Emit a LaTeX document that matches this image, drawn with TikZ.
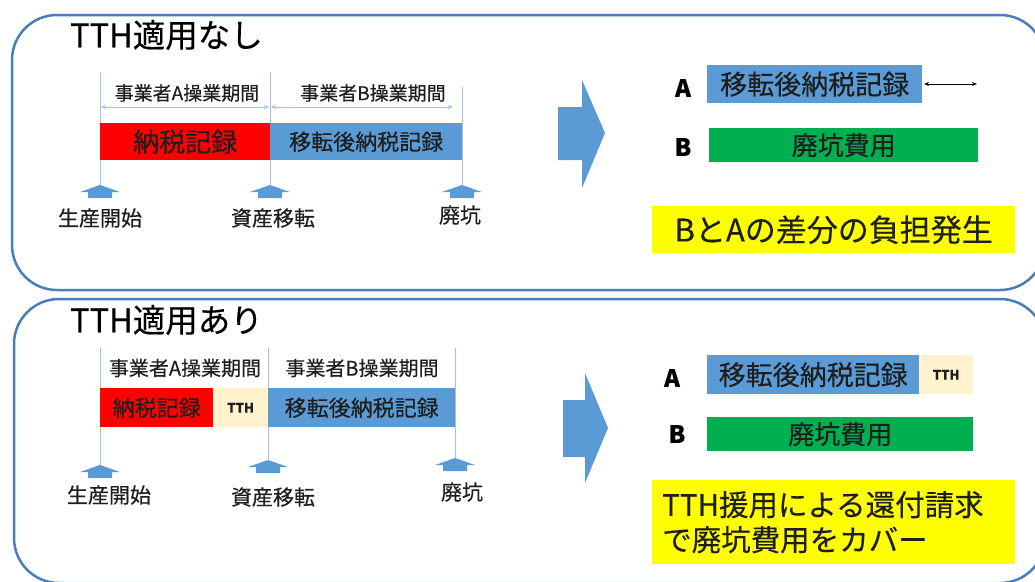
\documentclass[tikz,border=0pt]{standalone}
\usepackage{fontspec}
\setmainfont{Noto Sans CJK JP}[FakeBold=0.3]
\usetikzlibrary{arrows.meta}
\definecolor{barblue}{RGB}{91,155,213}
\definecolor{barred}{RGB}{255,0,0}
\definecolor{bargreen}{RGB}{0,176,80}
\definecolor{tthcream}{RGB}{255,242,204}
\definecolor{hiyellow}{RGB}{255,255,0}
\definecolor{guide}{RGB}{157,195,230}
\definecolor{framecol}{RGB}{74,126,187}
\definecolor{ink}{RGB}{30,30,30}
\newcommand{\uparrowshape}[2]{%
  \fill[barblue] (#1,#2) -- (#1+20,#2+7) -- (#1+12,#2+7) -- (#1+12,#2+13)
    -- (#1-12,#2+13) -- (#1-12,#2+7) -- (#1-20,#2+7) -- cycle;}
\tikzset{
  fsz/.style={font=\fontsize{#1}{#1}\selectfont},
  bfsz/.style={font=\fontsize{#1}{#1}\selectfont\bfseries},
  outerbox/.style={draw=framecol, line width=2.5pt, rounded corners=45pt},
  guideline/.style={draw=guide, line width=1pt},
  dimarrow/.style={draw=guide, line width=1pt, {Stealth[length=5pt,width=4pt]}-{Stealth[length=5pt,width=4pt]}},
  bar/.style={anchor=north west, inner sep=0pt, text=ink},
  lbl/.style={text=ink, inner sep=0pt},
}
\begin{document}
\begin{tikzpicture}[x=1pt,y=-1pt]
\useasboundingbox (0,0) rectangle (1035,581);
\fill[white] (0,0) rectangle (1035,581);

% ---------- outer frames
\draw[outerbox] (12,15) rectangle (1045,290);
\draw[outerbox] (14,299) rectangle (1045,583);

% ================= TOP: TTH適用なし
\node[anchor=west, lbl, fsz=32.5, text=black] (title1) at (70,35) {TTH適用なし};

\coordinate (g1t) at (100,72);  \coordinate (g1b) at (100,185);
\coordinate (g2t) at (270,72);  \coordinate (g2b) at (270,185);
\coordinate (g3t) at (462,87);  \coordinate (g3b) at (462,185);
\draw[guideline] (g1t) -- (g1b);
\draw[guideline] (g2t) -- (g2b);
\draw[guideline] (g3t) -- (g3b);

\coordinate (d1a) at (101,107); \coordinate (d1b) at (269,107);
\coordinate (d2a) at (271,107); \coordinate (d2b) at (453,107);
\draw[dimarrow] (d1a) -- (d1b);
\draw[dimarrow] (d2a) -- (d2b);

\node[lbl, fsz=19] (opA1) at (187,93) {事業者A操業期間};
\node[lbl, fsz=19] (opB1) at (373,93) {事業者B操業期間};

\node[bar, fill=barred, minimum width=170pt, minimum height=37pt, fsz=26] (red1) at (100,123) {納税記録};
\node[bar, fill=barblue, minimum width=192pt, minimum height=37pt, fsz=22] (blue1) at (270,123) {移転後納税記録};

\uparrowshape{100}{185}
\uparrowshape{270}{185}
\uparrowshape{462}{185}

\node[lbl, fsz=21] (start1) at (100,218) {生産開始};
\node[lbl, fsz=21] (trans1) at (273,218) {資産移転};
\node[lbl, fsz=21] (aband1) at (460,215) {廃坑};

\fill[barblue] (558,107) -- (582,107) -- (582,80) -- (605,133) -- (582,188) -- (582,160) -- (558,160) -- cycle;

\node[lbl, bfsz=24, text=black] (A1) at (683,88) {A};
\node[bar, fill=barblue, minimum width=215pt, minimum height=38pt, fsz=27] (rblue1) at (707,65) {移転後納税記録};
\coordinate (da) at (924,84); \coordinate (db) at (977,84);
\draw[line width=0.8pt, {Stealth[length=5pt,width=4pt]}-{Stealth[length=5pt,width=4pt]}] (da) -- (db);
\node[lbl, bfsz=24, text=black] (B1) at (683,147) {B};
\node[bar, fill=bargreen, minimum width=269pt, minimum height=34pt, fsz=26] (green1) at (709,128) {廃坑費用};
\node[bar, fill=hiyellow, minimum width=363pt, minimum height=47pt, fsz=31] (yel1) at (652,206) {BとAの差分の負担発生};

% ================= BOTTOM: TTH適用あり
\node[anchor=west, lbl, fsz=32.5, text=black] (title2) at (70,320) {TTH適用あり};

\coordinate (h1t) at (100,348);  \coordinate (h1b) at (100,465);
\coordinate (h2t) at (268,348);  \coordinate (h2b) at (268,460);
\coordinate (h3t) at (455,348);  \coordinate (h3b) at (455,458);
\draw[guideline] (h1t) -- (h1b);
\draw[guideline] (h2t) -- (h2b);
\draw[guideline] (h3t) -- (h3b);

\node[lbl, fsz=20] (opA2) at (185,368) {事業者A操業期間};
\node[lbl, fsz=20] (opB2) at (362,368) {事業者B操業期間};

\node[bar, fill=barred, minimum width=113pt, minimum height=39pt, fsz=22] (red2) at (100,388) {納税記録};
\node[bar, fill=tthcream, minimum width=55pt, minimum height=39pt, bfsz=13] (tth2) at (213,388) {TTH};
\node[bar, fill=barblue, minimum width=187pt, minimum height=39pt, fsz=22] (blue2) at (268,388) {移転後納税記録};

\uparrowshape{100}{465}
\uparrowshape{268}{460}
\uparrowshape{455}{458}

\node[lbl, fsz=21] (start2) at (109,495) {生産開始};
\node[lbl, fsz=21] (trans2) at (273,497) {資産移転};
\node[lbl, fsz=21] (aband2) at (462,492) {廃坑};

\fill[barblue] (563,400) -- (585,400) -- (585,373) -- (608,428) -- (585,483) -- (585,457) -- (563,457) -- cycle;

\node[lbl, bfsz=24, text=black] (A2) at (672,378) {A};
\node[bar, fill=barblue, minimum width=212pt, minimum height=39pt, fsz=27] (rblue2) at (707,355) {移転後納税記録};
\node[bar, fill=tthcream, minimum width=54pt, minimum height=39pt, bfsz=13] (rtth2) at (919,355) {TTH};
\node[lbl, bfsz=24, text=black] (B2) at (677,434) {B};
\node[bar, fill=bargreen, minimum width=266pt, minimum height=34pt, fsz=26] (green2) at (707,417) {廃坑費用};
\node[bar, fill=hiyellow, minimum width=363pt, minimum height=84pt, inner xsep=10pt,
      text width=343pt, align=left, font=\fontsize{29.5}{35}\selectfont] (yel2) at (652,480)
      {TTH援用による還付請求\\で廃坑費用をカバー};
\end{tikzpicture}
\end{document}
